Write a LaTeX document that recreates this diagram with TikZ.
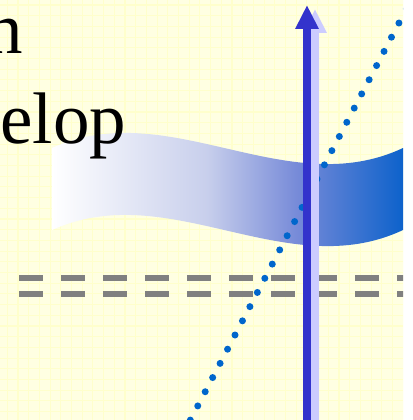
\documentclass[tikz,border=0pt]{standalone}
\usepackage{fontspec}
\setmainfont{Liberation Serif}
\usetikzlibrary{arrows.meta}
\definecolor{bgyellow}{RGB}{255,255,226}
\definecolor{gridyellow}{RGB}{255,255,204}
\definecolor{bandA}{RGB}{200,207,236}
\definecolor{bandB}{RGB}{118,138,216}
\definecolor{bandC}{RGB}{13,98,203}
\definecolor{dashgray}{RGB}{128,128,128}
\definecolor{dotblue}{RGB}{0,102,204}
\definecolor{arrowdark}{RGB}{51,51,204}
\definecolor{arrowlight}{RGB}{204,204,255}
\pgfdeclarehorizontalshading{bandshade}{100bp}{color(0bp)=(white); color(25bp)=(white); color(47bp)=(bandA); color(60bp)=(bandB); color(75bp)=(bandC); color(100bp)=(bandC)}
\tikzset{
  gridline/.style={gridyellow, line width=1.1pt},
  dashrule/.style={dashgray, line width=6pt, dash pattern=on 24pt off 18pt},
  dotrule/.style={dotblue, line width=7pt, line cap=round, dash pattern=on 0pt off 16.02pt},
  upshaft/.style={line width=8pt, -{Triangle[width=22pt,length=24pt]}},
  bigtext/.style={inner sep=0pt, font=\fontsize{73}{87}\selectfont}
}
\begin{document}
\begin{tikzpicture}[x=1pt,y=-1pt]
\useasboundingbox (0,0) rectangle (412,420);
\fill[white] (0,0) rectangle (412,420);
\begin{scope}
\clip (0,0) rectangle (403,420);
\fill[bgyellow] (0,0) rectangle (403,420);
\foreach \i in {0,...,38} {
  \draw[gridline] ({7.3+10.7*\i},0) -- ({7.3+10.7*\i},420);
  \draw[gridline] (0,{5+10.7*\i}) -- (403,{5+10.7*\i});
}
% wavy band
\shade[shading=bandshade] (52,148) .. controls (169,95) and (286,203) .. (403,148)
  -- (403,230) .. controls (286,285) and (169,177) .. (52,230) -- cycle;
% text
\node[bigtext, anchor=base east] (tn) at (23,54) {n};
\node[bigtext, anchor=base west] (telop) at (0.2,143) {elop};
% double dashed rule
\coordinate (d1a) at (19,278);
\coordinate (d1b) at (410,278);
\coordinate (d2a) at (19,294);
\coordinate (d2b) at (410,294);
\draw[dashrule] (d1a) -- (d1b);
\draw[dashrule] (d2a) -- (d2b);
% dotted slanted line
\coordinate (dotlow) at (190.3,420.1);
\coordinate (dothigh) at (413.5,-4.7);
\draw[dotrule] (dotlow) -- (dothigh);
% vertical arrow with shadow
\coordinate (abot) at (307,430);
\coordinate (atip) at (307,5);
\draw[upshaft, arrowlight] ([xshift=8pt,yshift=-4pt]abot) -- ([xshift=8pt,yshift=-4pt]atip);
\draw[upshaft, arrowdark] (abot) -- (atip);
\end{scope}
\end{tikzpicture}
\end{document}
